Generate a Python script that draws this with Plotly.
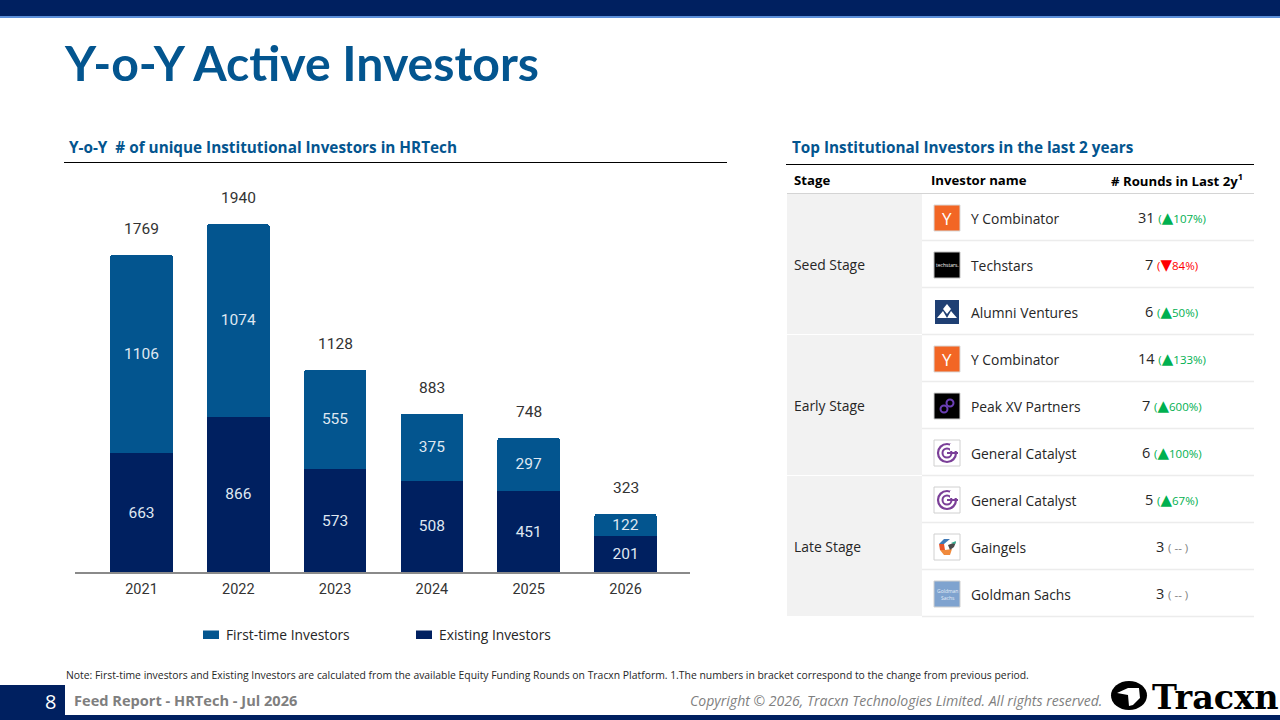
import plotly.graph_objects as go

# chart data
years = ["2021", "2022", "2023", "2024", "2025", "2026"]
existing = [663, 866, 573, 508, 451, 201]
first_time = [1106, 1074, 555, 375, 297, 122]
totals = [1769, 1940, 1128, 883, 748, 323]

# table data
stages = ["Seed Stage", "Early Stage", "Late Stage"]
investors = ["Y Combinator", "Techstars", "Alumni Ventures",
             "Y Combinator", "Peak XV Partners", "General Catalyst",
             "General Catalyst", "Gaingels", "Goldman Sachs"]
rounds = [31, 7, 6, 14, 7, 6, 5, 3, 3]
changes = ["▲107%", "▼84%", "▲50%", "▲133%", "▲600%", "▲100%", "▲67%", "--", "--"]
logos = ["yc", "techstars", "alumni", "yc", "peak", "gc", "gc", "gaingels", "goldman"]

NAVY = "#002060"
BLUE = "#03558f"
FONT = "Open Sans"
W, H = 1280, 720


def px(x):
    return x / W


def py(y):
    return 1 - y / H


shapes = []
annotations = []


def rect(x0, y0, x1, y1, fill, line=None, width=1):
    shapes.append(dict(type="rect", xref="paper", yref="paper", layer="below",
                       x0=px(x0), x1=px(x1), y0=py(y0), y1=py(y1), fillcolor=fill,
                       line=dict(color=line, width=width) if line else dict(width=0)))


def hline(x0, x1, y, color, width=1):
    shapes.append(dict(type="line", xref="paper", yref="paper", layer="below",
                       x0=px(x0), x1=px(x1), y0=py(y), y1=py(y),
                       line=dict(color=color, width=width)))


def text(x, y, s, size=14, color="#1a1a1a", anchor="left", bold=False, font=FONT, italic=False):
    if bold:
        s = "<b>" + s + "</b>"
    if italic:
        s = "<i>" + s + "</i>"
    annotations.append(dict(xref="paper", yref="paper", x=px(x), y=py(y), text=s, showarrow=False,
                            xanchor=anchor, yanchor="middle", align=anchor, borderpad=0, borderwidth=0,
                            font=dict(size=size, color=color, family=font)))


def path(points, fill, line=None, width=1):
    d = "M" + " L".join(f"{px(a):.5f},{py(b):.5f}" for a, b in points) + " Z"
    shapes.append(dict(type="path", xref="paper", yref="paper", path=d, fillcolor=fill, layer="above",
                       line=dict(color=line, width=width) if line else dict(width=0)))


def ring(cx, cy, r, color, width=2):
    shapes.append(dict(type="circle", xref="paper", yref="paper", layer="above",
                       x0=px(cx - r), x1=px(cx + r), y0=py(cy + r), y1=py(cy - r),
                       line=dict(color=color, width=width), fillcolor="rgba(0,0,0,0)"))


def logo(kind, cy):
    x0, x1 = 934, 960
    y0, y1 = cy - 13, cy + 13
    cx = (x0 + x1) / 2
    if kind == "yc":
        rect(x0, y0, x1, y1, "#f26625", "#d9d9d9")
        text(cx, cy, "Y", 17, "#ffffff", "center")
    elif kind == "techstars":
        rect(x0, y0, x1, y1, "#000000", "#bfbfbf")
        text(cx, cy, "techstars.", 5, "#ffffff", "center")
    elif kind == "alumni":
        rect(x0 + 1, y0 + 1, x1 - 1, y1 - 1, "#1f3f73")
        path([(cx - 10, cy + 6), (cx - 4, cy - 1), (cx, cy + 6)], "#ffffff")
        path([(cx, cy + 6), (cx + 4, cy - 1), (cx + 10, cy + 6)], "#ffffff")
        path([(cx - 4, cy - 3), (cx, cy - 8), (cx + 4, cy - 3), (cx, cy + 2)], "#ffffff")
    elif kind == "peak":
        rect(x0, y0, x1, y1, "#000000", "#d0d0d0")
        ring(cx - 3, cy + 3, 3.5, "#6a3fb5", 2)
        ring(cx + 3, cy - 3, 3.5, "#6a3fb5", 2)
    elif kind == "gc":
        rect(x0, y0, x1, y1, "#ffffff", "#d0d0d0")
        ring(cx, cy, 9, "#7b3f98", 2.2)
        ring(cx, cy, 4.5, "#7b3f98", 2)
        path([(cx, cy - 1), (cx + 11, cy - 1), (cx + 11, cy + 1), (cx, cy + 1)], "#7b3f98")
        path([(cx + 3, cy - 9), (cx + 11, cy - 9), (cx + 11, cy - 2), (cx + 3, cy - 2)], "#ffffff")
    elif kind == "gaingels":
        rect(x0, y0, x1, y1, "#ffffff", "#d0d0d0")
        path([(cx - 8, cy - 3), (cx - 3, cy - 8), (cx + 3, cy - 8), (cx - 3, cy - 3)], "#3f78b5")
        path([(cx - 8, cy - 3), (cx - 3, cy - 3), (cx - 2, cy + 3), (cx - 7, cy + 3)], "#e8552a")
        path([(cx - 7, cy + 3), (cx - 2, cy + 3), (cx + 5, cy + 2), (cx + 3, cy + 8), (cx - 3, cy + 8)], "#f08a3c")
        path([(cx + 1, cy - 2), (cx + 9, cy - 5), (cx + 7, cy), (cx + 3, cy + 3)], "#4a4a4a")
        path([(cx + 4, cy - 4), (cx + 9, cy - 6), (cx + 8, cy - 3)], "#2fae8e")
    elif kind == "goldman":
        rect(x0, y0, x1, y1, "#7fa3cf", "#d0d0d0")
        text(cx, cy, "Goldman<br>Sachs", 5, "#e6eef7", "center")


# header and footer bands
rect(0, 0, W, 16, NAVY)
rect(0, 16, W, 18, "#5b8fd9")
rect(0, 685, 65, 720, NAVY)
rect(0, 715, W, 720, NAVY)

text(64, 62, "Y-o-Y Active Investors", 48.2, BLUE, bold=True, font="Lato")
text(69, 147, "Y-o-Y  # of unique Institutional Investors in HRTech", 15.3, BLUE, bold=True)
hline(64, 727, 162.5, "#000000", 1)
text(792, 147, "Top Institutional Investors in the last 2 years", 15.3, BLUE, bold=True)
hline(786, 1254, 164.5, "#000000", 1)

# table
text(794, 180, "Stage", 13.2, "#000000", bold=True)
text(931, 180, "Investor name", 13.2, "#000000", bold=True)
text(1177, 179.5, "# Rounds in Last 2y<sup>1</sup>", 13.2, "#000000", "center", bold=True)
hline(787, 1254, 193.5, "#d4d4d4", 1)

ROW = 47.0
TOP = 193.5
for i, stage in enumerate(stages):
    y0 = TOP + 3 * i * ROW
    rect(787, y0 + 0.5, 922, y0 + 3 * ROW - 0.5, "#f2f2f2")
    text(794, y0 + 1.5 * ROW, stage, 13.9, "#262626")

TRI = "<span style='font-family:DejaVu Sans;font-size:15px'>%s</span>"
for i, name in enumerate(investors):
    y0 = TOP + i * ROW
    cy = y0 + ROW / 2 + 1
    hline(922, 1254, y0 + ROW, "#ececec", 1.5)
    logo(logos[i], cy)
    text(971, cy, name, 13.85, "#262626")
    change = changes[i]
    if change == "--":
        tag = "<span style='color:#7f7f7f;font-size:11.5px'>( -- )</span>"
    else:
        col = "#ff0000" if change.startswith("▼") else "#00b050"
        tag = f"<span style='color:{col};font-size:11.5px'>(" + TRI % change[0] + f"{change[1:]})</span>"
    text(1171.5, cy - 0.5, f"{rounds[i]} {tag}", 14.5, "#262626", "center")

# legend, drawn by hand to get the flat swatches
rect(203, 630.5, 219, 639, BLUE)
text(226, 634.5, "First-time Investors", 13.8, "#262626")
rect(416, 630.5, 432, 639, NAVY)
text(439, 634.5, "Existing Investors", 13.8, "#262626")

# footer text
text(66, 674.5, "Note: First-time investors and Existing Investors are calculated from the available Equity "
     "Funding Rounds on Tracxn Platform. 1.The numbers in bracket correspond to the change from previous period.",
     10.39, "#262626")
text(50, 701, "8", 20, "#ffffff", "center")
text(74, 700, "Feed Report - HRTech - Jul 2026", 14.6, "#7f7f7f", bold=True)
text(1102, 700.5, "Copyright © 2026, Tracxn Technologies Limited. All rights reserved.", 14.05, "#7f7f7f", "right", italic=True)

# tracxn mark
shapes.append(dict(type="circle", xref="paper", yref="paper", layer="above",
                   x0=px(1111), x1=px(1147), y0=py(710), y1=py(681),
                   line=dict(width=0), fillcolor="#000000"))
path([(1117, 693), (1128, 688), (1139, 688), (1140, 698), (1133, 705), (1129, 706), (1128, 695)], "#ffffff")
text(1279, 697, "Tracxn", 33.5, "#000000", "right", bold=True, font="DejaVu Serif")

fig = go.Figure()
fig.add_trace(go.Bar(x=years, y=existing, name="Existing Investors", marker=dict(color=NAVY, line=dict(width=0)),
                     text=existing, textposition="inside", insidetextanchor="middle", textangle=0,
                     constraintext="none", textfont=dict(family="Roboto", size=15.5, color="#dfe7f1")))
fig.add_trace(go.Bar(x=years, y=first_time, name="First-time Investors", marker=dict(color=BLUE, line=dict(width=0)),
                     text=first_time, textposition="inside", insidetextanchor="middle", textangle=0,
                     constraintext="none", textfont=dict(family="Roboto", size=15.5, color="#dfe7f1")))

for i, total in enumerate(totals):
    annotations.append(dict(x=i, y=total, xref="x", yref="y", text=str(total), showarrow=False,
                            yanchor="middle", yshift=26, font=dict(family="Roboto", size=15.5, color="#333333")))

fig.update_layout(
    width=W, height=H, margin=dict(l=0, r=0, t=0, b=0),
    paper_bgcolor="#ffffff", plot_bgcolor="#ffffff",
    barmode="stack", bargap=0.354, barcornerradius=3,
    showlegend=False,
    xaxis=dict(domain=[px(75), px(690)], range=[-0.687, 5.666], type="category", showgrid=False, zeroline=False,
               showline=True, linecolor="#8a8a8a", linewidth=2, ticks="", ticklen=0, ticklabelstandoff=3,
               tickfont=dict(family="Roboto", size=14.5, color="#333333")),
    yaxis=dict(domain=[py(572), py(213.2)], range=[0, 2000], visible=False),
    shapes=shapes, annotations=annotations,
    font=dict(family=FONT),
)

fig.write_html("out.html", post_script="document.body.style.margin='0';", config=dict(displayModeBar=False))
